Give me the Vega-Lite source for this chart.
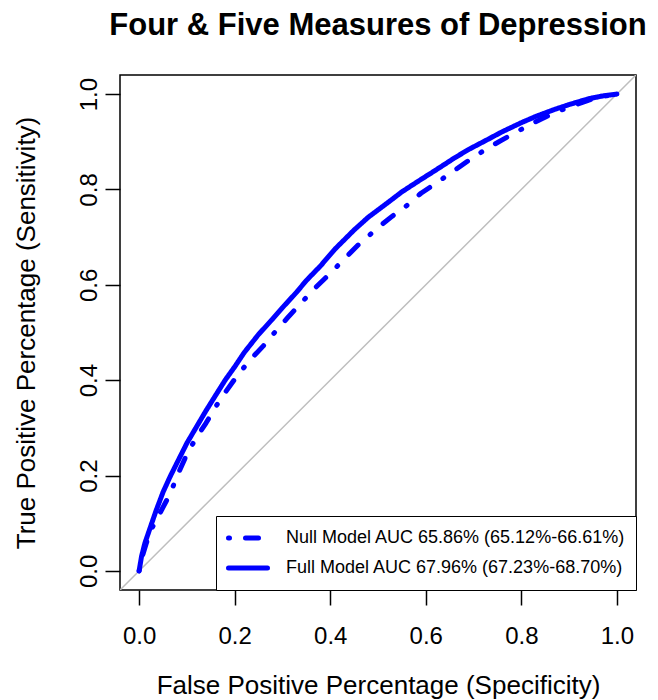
{
  "$schema": "https://vega.github.io/schema/vega-lite/v6.json",
  "width": 516,
  "height": 515,
  "autosize": {"type": "none"},
  "padding": {"left": 120, "top": 75, "right": 22, "bottom": 110},
  "background": "white",
  "title": {
    "text": "Four & Five Measures of Depression",
    "fontSize": 31,
    "fontWeight": "bold",
    "font": "Liberation Sans",
    "color": "black",
    "anchor": "middle",
    "frame": "group",
    "baseline": "alphabetic",
    "offset": 9
  },
  "config": {
    "view": {"stroke": "black", "strokeWidth": 1.5},
    "font": "Liberation Sans"
  },
  "datasets": {
    "roc": [
      {"model": "Null Model AUC 65.86% (65.12%-66.61%)", "fpr": 0, "tpr": 0},
      {"model": "Null Model AUC 65.86% (65.12%-66.61%)", "fpr": 0.006, "tpr": 0.028},
      {"model": "Null Model AUC 65.86% (65.12%-66.61%)", "fpr": 0.015, "tpr": 0.058},
      {"model": "Null Model AUC 65.86% (65.12%-66.61%)", "fpr": 0.028, "tpr": 0.092},
      {"model": "Null Model AUC 65.86% (65.12%-66.61%)", "fpr": 0.044, "tpr": 0.122},
      {"model": "Null Model AUC 65.86% (65.12%-66.61%)", "fpr": 0.065, "tpr": 0.162},
      {"model": "Null Model AUC 65.86% (65.12%-66.61%)", "fpr": 0.08, "tpr": 0.2},
      {"model": "Null Model AUC 65.86% (65.12%-66.61%)", "fpr": 0.1, "tpr": 0.245},
      {"model": "Null Model AUC 65.86% (65.12%-66.61%)", "fpr": 0.12, "tpr": 0.28},
      {"model": "Null Model AUC 65.86% (65.12%-66.61%)", "fpr": 0.14, "tpr": 0.31},
      {"model": "Null Model AUC 65.86% (65.12%-66.61%)", "fpr": 0.16, "tpr": 0.344},
      {"model": "Null Model AUC 65.86% (65.12%-66.61%)", "fpr": 0.18, "tpr": 0.374},
      {"model": "Null Model AUC 65.86% (65.12%-66.61%)", "fpr": 0.2, "tpr": 0.402},
      {"model": "Null Model AUC 65.86% (65.12%-66.61%)", "fpr": 0.23, "tpr": 0.44},
      {"model": "Null Model AUC 65.86% (65.12%-66.61%)", "fpr": 0.26, "tpr": 0.472},
      {"model": "Null Model AUC 65.86% (65.12%-66.61%)", "fpr": 0.28, "tpr": 0.496},
      {"model": "Null Model AUC 65.86% (65.12%-66.61%)", "fpr": 0.31, "tpr": 0.53},
      {"model": "Null Model AUC 65.86% (65.12%-66.61%)", "fpr": 0.34, "tpr": 0.563},
      {"model": "Null Model AUC 65.86% (65.12%-66.61%)", "fpr": 0.37, "tpr": 0.595},
      {"model": "Null Model AUC 65.86% (65.12%-66.61%)", "fpr": 0.4, "tpr": 0.624},
      {"model": "Null Model AUC 65.86% (65.12%-66.61%)", "fpr": 0.43, "tpr": 0.655},
      {"model": "Null Model AUC 65.86% (65.12%-66.61%)", "fpr": 0.46, "tpr": 0.685},
      {"model": "Null Model AUC 65.86% (65.12%-66.61%)", "fpr": 0.5, "tpr": 0.72},
      {"model": "Null Model AUC 65.86% (65.12%-66.61%)", "fpr": 0.53, "tpr": 0.744},
      {"model": "Null Model AUC 65.86% (65.12%-66.61%)", "fpr": 0.56, "tpr": 0.766},
      {"model": "Null Model AUC 65.86% (65.12%-66.61%)", "fpr": 0.59, "tpr": 0.792},
      {"model": "Null Model AUC 65.86% (65.12%-66.61%)", "fpr": 0.62, "tpr": 0.812},
      {"model": "Null Model AUC 65.86% (65.12%-66.61%)", "fpr": 0.66, "tpr": 0.84},
      {"model": "Null Model AUC 65.86% (65.12%-66.61%)", "fpr": 0.69, "tpr": 0.861},
      {"model": "Null Model AUC 65.86% (65.12%-66.61%)", "fpr": 0.73, "tpr": 0.887},
      {"model": "Null Model AUC 65.86% (65.12%-66.61%)", "fpr": 0.76, "tpr": 0.904},
      {"model": "Null Model AUC 65.86% (65.12%-66.61%)", "fpr": 0.8, "tpr": 0.926},
      {"model": "Null Model AUC 65.86% (65.12%-66.61%)", "fpr": 0.83, "tpr": 0.942},
      {"model": "Null Model AUC 65.86% (65.12%-66.61%)", "fpr": 0.87, "tpr": 0.961},
      {"model": "Null Model AUC 65.86% (65.12%-66.61%)", "fpr": 0.9, "tpr": 0.973},
      {"model": "Null Model AUC 65.86% (65.12%-66.61%)", "fpr": 0.94, "tpr": 0.987},
      {"model": "Null Model AUC 65.86% (65.12%-66.61%)", "fpr": 0.97, "tpr": 0.995},
      {"model": "Null Model AUC 65.86% (65.12%-66.61%)", "fpr": 1, "tpr": 1},
      {"model": "Full Model AUC 67.96% (67.23%-68.70%)", "fpr": 0, "tpr": 0},
      {"model": "Full Model AUC 67.96% (67.23%-68.70%)", "fpr": 0.005, "tpr": 0.03},
      {"model": "Full Model AUC 67.96% (67.23%-68.70%)", "fpr": 0.012, "tpr": 0.058},
      {"model": "Full Model AUC 67.96% (67.23%-68.70%)", "fpr": 0.023, "tpr": 0.09},
      {"model": "Full Model AUC 67.96% (67.23%-68.70%)", "fpr": 0.035, "tpr": 0.125},
      {"model": "Full Model AUC 67.96% (67.23%-68.70%)", "fpr": 0.05, "tpr": 0.165},
      {"model": "Full Model AUC 67.96% (67.23%-68.70%)", "fpr": 0.065, "tpr": 0.198},
      {"model": "Full Model AUC 67.96% (67.23%-68.70%)", "fpr": 0.08, "tpr": 0.228},
      {"model": "Full Model AUC 67.96% (67.23%-68.70%)", "fpr": 0.1, "tpr": 0.268},
      {"model": "Full Model AUC 67.96% (67.23%-68.70%)", "fpr": 0.12, "tpr": 0.302},
      {"model": "Full Model AUC 67.96% (67.23%-68.70%)", "fpr": 0.14, "tpr": 0.336},
      {"model": "Full Model AUC 67.96% (67.23%-68.70%)", "fpr": 0.16, "tpr": 0.368},
      {"model": "Full Model AUC 67.96% (67.23%-68.70%)", "fpr": 0.18, "tpr": 0.4},
      {"model": "Full Model AUC 67.96% (67.23%-68.70%)", "fpr": 0.2, "tpr": 0.428},
      {"model": "Full Model AUC 67.96% (67.23%-68.70%)", "fpr": 0.22, "tpr": 0.458},
      {"model": "Full Model AUC 67.96% (67.23%-68.70%)", "fpr": 0.25, "tpr": 0.496},
      {"model": "Full Model AUC 67.96% (67.23%-68.70%)", "fpr": 0.28, "tpr": 0.529},
      {"model": "Full Model AUC 67.96% (67.23%-68.70%)", "fpr": 0.3, "tpr": 0.552},
      {"model": "Full Model AUC 67.96% (67.23%-68.70%)", "fpr": 0.33, "tpr": 0.585},
      {"model": "Full Model AUC 67.96% (67.23%-68.70%)", "fpr": 0.35, "tpr": 0.609},
      {"model": "Full Model AUC 67.96% (67.23%-68.70%)", "fpr": 0.38, "tpr": 0.64},
      {"model": "Full Model AUC 67.96% (67.23%-68.70%)", "fpr": 0.41, "tpr": 0.675},
      {"model": "Full Model AUC 67.96% (67.23%-68.70%)", "fpr": 0.45, "tpr": 0.715},
      {"model": "Full Model AUC 67.96% (67.23%-68.70%)", "fpr": 0.48, "tpr": 0.742},
      {"model": "Full Model AUC 67.96% (67.23%-68.70%)", "fpr": 0.52, "tpr": 0.772},
      {"model": "Full Model AUC 67.96% (67.23%-68.70%)", "fpr": 0.55, "tpr": 0.795},
      {"model": "Full Model AUC 67.96% (67.23%-68.70%)", "fpr": 0.59, "tpr": 0.821},
      {"model": "Full Model AUC 67.96% (67.23%-68.70%)", "fpr": 0.62, "tpr": 0.84},
      {"model": "Full Model AUC 67.96% (67.23%-68.70%)", "fpr": 0.66, "tpr": 0.866},
      {"model": "Full Model AUC 67.96% (67.23%-68.70%)", "fpr": 0.69, "tpr": 0.884},
      {"model": "Full Model AUC 67.96% (67.23%-68.70%)", "fpr": 0.73, "tpr": 0.905},
      {"model": "Full Model AUC 67.96% (67.23%-68.70%)", "fpr": 0.76, "tpr": 0.921},
      {"model": "Full Model AUC 67.96% (67.23%-68.70%)", "fpr": 0.8, "tpr": 0.94},
      {"model": "Full Model AUC 67.96% (67.23%-68.70%)", "fpr": 0.83, "tpr": 0.953},
      {"model": "Full Model AUC 67.96% (67.23%-68.70%)", "fpr": 0.87, "tpr": 0.968},
      {"model": "Full Model AUC 67.96% (67.23%-68.70%)", "fpr": 0.9, "tpr": 0.978},
      {"model": "Full Model AUC 67.96% (67.23%-68.70%)", "fpr": 0.94, "tpr": 0.99},
      {"model": "Full Model AUC 67.96% (67.23%-68.70%)", "fpr": 0.97, "tpr": 0.996},
      {"model": "Full Model AUC 67.96% (67.23%-68.70%)", "fpr": 1, "tpr": 1}
    ]
  },
  "layer": [
    {
      "data": {"values": [{}]},
      "mark": {"type": "rule", "color": "#bebebe", "strokeWidth": 1.5, "clip": true},
      "encoding": {
        "x": {"datum": -0.04, "type": "quantitative"},
        "x2": {"datum": 1.04},
        "y": {"datum": -0.04, "type": "quantitative"},
        "y2": {"datum": 1.04}
      }
    },
    {
      "data": {"name": "roc"},
      "mark": {"type": "line", "color": "#0000ff", "strokeWidth": 5, "strokeCap": "round", "strokeJoin": "round"},
      "encoding": {
        "x": {
          "field": "fpr",
          "type": "quantitative",
          "scale": {"domain": [-0.04, 1.04], "nice": false, "zero": false},
          "axis": {
            "values": [0, 0.2, 0.4, 0.6, 0.8, 1],
            "format": ".1f",
            "grid": false,
            "domain": false,
            "tickColor": "black",
            "tickWidth": 1.5,
            "tickSize": 15,
            "labelFontSize": 24,
            "labelColor": "black",
            "labelPadding": 19,
            "labelFont": "Liberation Sans",
            "title": "False Positive Percentage (Specificity)",
            "titleFont": "Liberation Sans",
            "titleFontSize": 26,
            "titleFontWeight": "normal",
            "titleColor": "black",
            "titlePadding": 24
          }
        },
        "y": {
          "field": "tpr",
          "type": "quantitative",
          "scale": {"domain": [-0.04, 1.04], "nice": false, "zero": false},
          "axis": {
            "values": [0, 0.2, 0.4, 0.6, 0.8, 1],
            "format": ".1f",
            "grid": false,
            "domain": false,
            "tickColor": "black",
            "tickWidth": 1.5,
            "tickSize": 15,
            "labelFontSize": 24,
            "labelColor": "black",
            "labelAngle": 270,
            "labelAlign": "center",
            "labelBaseline": "bottom",
            "labelPadding": 4,
            "labelFont": "Liberation Sans",
            "title": "True Positive Percentage (Sensitivity)",
            "titleFont": "Liberation Sans",
            "titleFontSize": 26,
            "titleFontWeight": "normal",
            "titleColor": "black",
            "titlePadding": 38
          }
        },
        "strokeDash": {
          "field": "model",
          "type": "nominal",
          "scale": {
            "domain": ["Null Model AUC 65.86% (65.12%-66.61%)", "Full Model AUC 67.96% (67.23%-68.70%)"],
            "range": [[1, 16, 13, 16], [1, 0]]
          },
          "legend": {
            "title": null,
            "orient": "bottom-right",
            "offset": 0,
            "padding": 10,
            "fillColor": "white",
            "strokeColor": "black",
            "symbolType": "stroke",
            "symbolSize": 1521,
            "symbolStrokeWidth": 5,
            "symbolStrokeColor": "#0000ff",
            "labelFontSize": 18,
            "labelFont": "Liberation Sans",
            "labelColor": "black",
            "labelOffset": 16,
            "labelLimit": 500,
            "clipHeight": 24,
            "rowPadding": 6,
            "encode": {"symbols": {"update": {"strokeCap": {"value": "round"}}}}
          }
        }
      }
    }
  ]
}
